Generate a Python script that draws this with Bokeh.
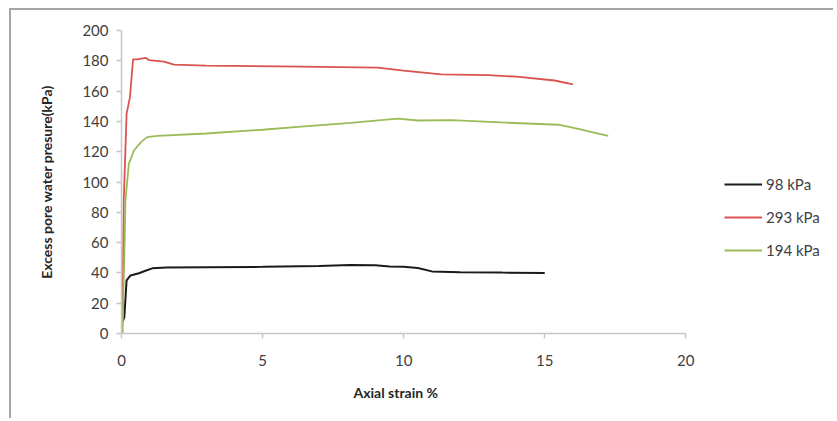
from bokeh.plotting import figure
from bokeh.models import Legend, LegendItem, Range1d, FixedTicker, Title
from bokeh.embed import file_html
from bokeh.resources import INLINE

# Data
strain_98 = [0.03, 0.1, 0.18, 0.32, 0.62, 0.8, 1.09, 1.6, 3.0, 5.0, 7.0, 8.1, 9.0, 9.5, 10.0, 10.5, 11.0, 12.0, 13.5, 15.0]
pwp_98 = [7.5, 10.8, 35.0, 38.3, 39.8, 41.1, 43.0, 43.5, 43.7, 44.0, 44.6, 45.2, 45.0, 44.2, 44.0, 43.2, 41.0, 40.5, 40.2, 40.0]

strain_293 = [0.03, 0.08, 0.18, 0.3, 0.41, 0.56, 0.85, 0.97, 1.5, 1.86, 3.0, 6.36, 9.08, 10.0, 11.33, 12.99, 14.0, 15.35, 16.0]
pwp_293 = [0.0, 87.8, 145.0, 156.0, 181.0, 181.0, 182.0, 180.5, 179.5, 177.5, 176.8, 176.2, 175.5, 173.5, 171.0, 170.5, 169.5, 167.0, 164.5]

strain_194 = [0.03, 0.1, 0.14, 0.26, 0.44, 0.7, 0.91, 1.27, 3.0, 5.0, 6.36, 8.13, 9.79, 10.5, 11.69, 13.46, 15.48, 16.19, 16.9, 17.25]
pwp_194 = [0.0, 50.0, 87.8, 112.0, 120.8, 126.5, 129.6, 130.5, 132.0, 134.5, 136.6, 139.0, 141.8, 140.6, 140.8, 139.3, 137.8, 135.0, 132.0, 130.5]

series_names = ["98 kPa", "293 kPa", "194 kPa"]
x_ticks = [0, 5, 10, 15, 20]
y_ticks = [0, 20, 40, 60, 80, 100, 120, 140, 160, 180, 200]
x_label = "Axial strain %"
y_label = "Excess pore water presure(kPa)"

FONT = "Lato"
TXT = "#404040"

p = figure(width=824, height=410, output_backend="svg", toolbar_location=None,
           x_range=Range1d(0, 25.2), y_range=Range1d(0, 200),
           min_border_left=110, min_border_right=3, min_border_top=20, min_border_bottom=87)
p.styles = {"margin-left": "9px", "margin-top": "8px",
            "border-left": "2px solid #a6a6a6", "border-top": "2px solid #a6a6a6"}
p.outline_line_color = None
p.xgrid.visible = False
p.ygrid.visible = False

for ax in (p.xaxis[0], p.yaxis[0]):
    ax.axis_line_color = "#c6c6c6"
    ax.axis_line_width = 1.5
    ax.major_tick_line_color = "#c6c6c6"
    ax.major_tick_line_width = 1.5
    ax.major_tick_in = 0
    ax.major_tick_out = 5
    ax.minor_tick_line_color = None
    ax.major_label_text_font = FONT
    ax.major_label_text_font_size = "15px"
    ax.major_label_text_color = TXT
    ax.axis_label_text_font = FONT
    ax.axis_label_text_font_size = "14px"
    ax.axis_label_text_font_style = "bold"
    ax.axis_label_text_color = "#262626"

p.xaxis.ticker = FixedTicker(ticks=x_ticks)
p.yaxis.ticker = FixedTicker(ticks=y_ticks)
p.xaxis.bounds = (0, 20)
p.yaxis.axis_label = y_label
p.xaxis.major_label_standoff = 16
p.yaxis.major_label_standoff = 8
p.yaxis.axis_label_standoff = 24
# invisible spacer label on the x axis to push the x title down a little
p.xaxis.axis_label = " "
p.xaxis.axis_label_text_font_size = "1px"
p.xaxis.axis_label_standoff = 4

# x-axis title, placed under the 0..20 axis span (the frame extends further right for the legend)
xt = Title(text=x_label, align="left", offset=232,
           text_font=FONT, text_font_size="14px", text_font_style="bold", text_color="#262626")
p.add_layout(xt, "below")

r1 = p.line(strain_98, pwp_98, line_color="#1a1a1a", line_width=2)
r2 = p.line(strain_293, pwp_293, line_color="#d9534f", line_width=1.8)
r3 = p.line(strain_194, pwp_194, line_color="#9bbb59", line_width=1.8)

legend = Legend(items=[LegendItem(label=series_names[0], renderers=[r1]),
                       LegendItem(label=series_names[1], renderers=[r2]),
                       LegendItem(label=series_names[2], renderers=[r3])],
                location=(603, 73), orientation="vertical",
                glyph_width=38, glyph_height=20, label_height=20, spacing=13,
                label_standoff=4, padding=0, margin=0,
                label_text_font=FONT, label_text_font_size="15px", label_text_color=TXT,
                border_line_color=None, background_fill_alpha=0)
p.add_layout(legend, "center")

open("out.html", "w").write(file_html(p, INLINE))
